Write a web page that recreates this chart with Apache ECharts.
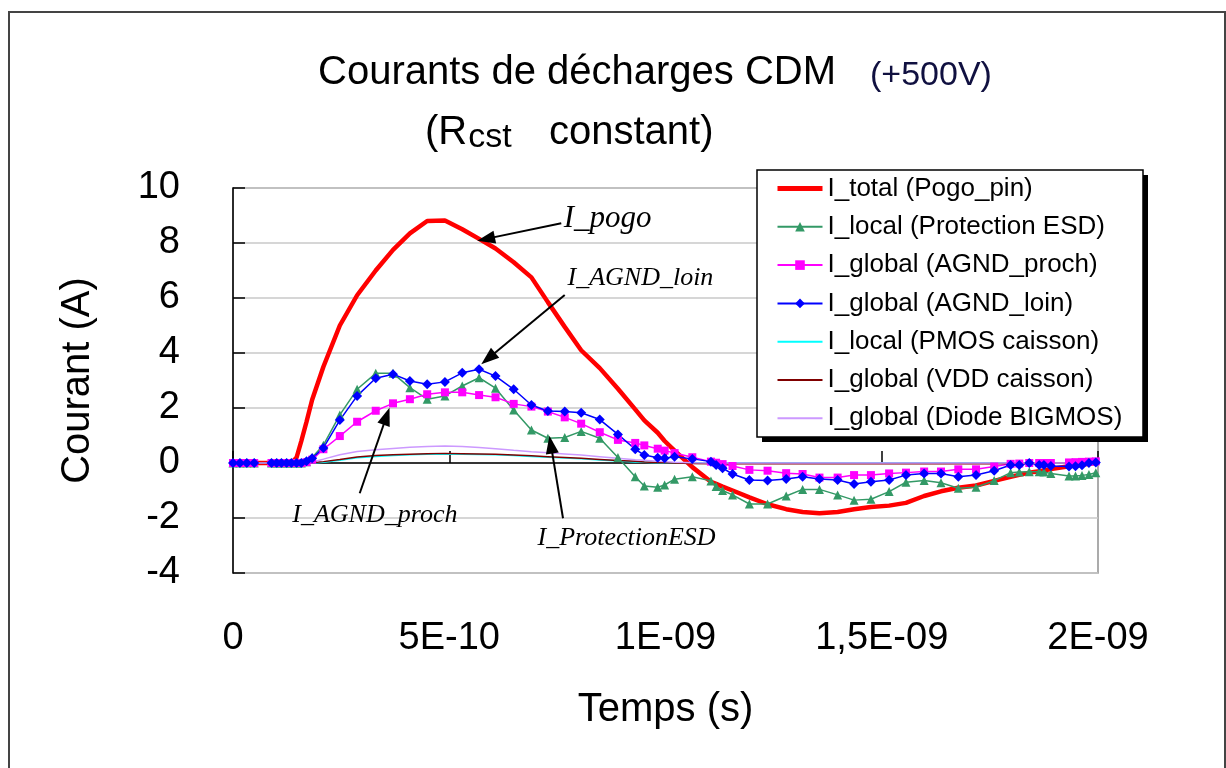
<!DOCTYPE html>
<html>
<head>
<meta charset="utf-8">
<script src="https://cdn.jsdelivr.net/npm/echarts@6/dist/echarts.min.js"></script>
<style>
  html, body { margin: 0; padding: 0; background: #ffffff; }
  #chart { width: 1226px; height: 768px; }
</style>
</head>
<body>
<div id="chart"></div>
<script>
// Simulation time steps (ns)
const temps = [
  0, 0.016, 0.032, 0.049, 0.089, 0.101, 0.112, 0.124, 0.135, 0.147,
  0.158, 0.170, 0.183, 0.209, 0.247, 0.287, 0.330, 0.370, 0.409, 0.449,
  0.490, 0.530, 0.569, 0.607, 0.649, 0.690, 0.728, 0.767, 0.805, 0.848,
  0.890, 0.930, 0.951, 0.982, 0.998, 1.021, 1.062, 1.105, 1.117, 1.132,
  1.155, 1.194, 1.236, 1.279, 1.317, 1.356, 1.398, 1.436, 1.475, 1.517,
  1.556, 1.598, 1.637, 1.677, 1.718, 1.760, 1.798, 1.818, 1.841, 1.864,
  1.875, 1.891, 1.933, 1.948, 1.963, 1.979, 1.995
];

// Currents (A)
const iTotalPogo = [
  0, 0, 0, 0, 0, 0, 0, 0, 0, 0.2,
  0.8, 1.5, 2.3, 3.5, 5.0, 6.1, 7.0, 7.75, 8.35, 8.8,
  8.82, 8.5, 8.15, 7.8, 7.3, 6.75, 5.85, 4.95, 4.1, 3.45,
  2.7, 1.95, 1.55, 1.1, 0.8, 0.45, -0.15, -0.68, -0.76, -0.86,
  -1.0, -1.25, -1.5, -1.68, -1.78, -1.83, -1.78, -1.68, -1.6, -1.55,
  -1.45, -1.2, -1.03, -0.9, -0.82, -0.65, -0.5, -0.43, -0.35, -0.3,
  -0.27, -0.22, -0.12, -0.09, -0.06, -0.03, 0
];
const iLocalESD = [
  0, 0, 0, 0, 0, 0, 0, 0, 0, 0,
  0, 0.05, 0.2, 0.65, 1.75, 2.68, 3.26, 3.26, 2.74, 2.32,
  2.44, 2.8, 3.1, 2.72, 1.93, 1.2, 0.9, 0.93, 1.15, 0.9,
  0.2, -0.5, -0.84, -0.88, -0.8, -0.59, -0.5, -0.65, -0.85, -1.0,
  -1.16, -1.49, -1.49, -1.2, -0.96, -0.96, -1.16, -1.35, -1.32, -1.04,
  -0.7, -0.64, -0.72, -0.92, -0.88, -0.64, -0.35, -0.33, -0.32, -0.32,
  -0.33, -0.38, -0.47, -0.47, -0.45, -0.42, -0.35
];
const iGlobalProch = [
  0, 0, 0, 0, 0, 0, 0, 0, 0, 0,
  0, 0.03, 0.12, 0.5, 0.98, 1.5, 1.9, 2.17, 2.32, 2.5,
  2.57, 2.57, 2.47, 2.39, 2.15, 2.05, 1.87, 1.66, 1.43, 1.12,
  0.84, 0.73, 0.64, 0.52, 0.45, 0.36, 0.21, 0.05, 0.01, -0.04,
  -0.11, -0.25, -0.28, -0.37, -0.4, -0.53, -0.53, -0.44, -0.44, -0.38,
  -0.35, -0.31, -0.31, -0.23, -0.23, -0.13, -0.03, -0.02, 0, 0,
  0, 0, 0.02, 0.03, 0.04, 0.05, 0.06
];
const iGlobalLoin = [
  0, 0, 0, 0, 0, 0, 0, 0, 0, 0,
  0, 0.06, 0.17, 0.55, 1.56, 2.44, 3.08, 3.23, 2.98, 2.86,
  2.95, 3.28, 3.41, 3.16, 2.68, 2.11, 1.89, 1.87, 1.83, 1.58,
  1.04, 0.5, 0.29, 0.19, 0.17, 0.23, 0.15, 0.05, -0.07, -0.19,
  -0.4, -0.62, -0.64, -0.58, -0.5, -0.58, -0.62, -0.76, -0.68, -0.62,
  -0.44, -0.38, -0.38, -0.5, -0.44, -0.28, -0.07, -0.07, 0, -0.07,
  -0.07, -0.11, -0.13, -0.12, -0.08, 0, 0.02
];
const iLocalPMOS = [
  0, 0, 0, 0, 0, 0, 0, 0, 0, 0,
  0, 0, 0, 0.03, 0.1, 0.19, 0.24, 0.27, 0.3, 0.32,
  0.33, 0.32, 0.31, 0.3, 0.27, 0.24, 0.21, 0.18, 0.15, 0.11,
  0.07, 0.04, 0.03, 0.01, 0, 0, 0, 0, 0, 0,
  0, 0, 0, 0, 0, 0, 0, 0, 0, 0,
  0, 0, 0, 0, 0, 0, 0, 0, 0, 0,
  0, 0, 0, 0, 0, 0, 0
];
const iGlobalVDD = [
  0, 0, 0, 0, 0, 0, 0, 0, 0, 0,
  0, 0, 0.01, 0.05, 0.13, 0.22, 0.27, 0.3, 0.32, 0.34,
  0.35, 0.34, 0.33, 0.32, 0.29, 0.26, 0.23, 0.2, 0.17, 0.13,
  0.09, 0.06, 0.04, 0.02, 0.01, 0, -0.02, -0.03, -0.03, -0.03,
  -0.03, -0.03, -0.03, -0.03, -0.03, -0.03, -0.03, -0.03, -0.03, -0.03,
  -0.03, -0.03, -0.03, -0.03, -0.03, -0.03, -0.02, -0.02, -0.01, -0.01,
  0, 0, 0, 0, 0, 0, 0
];
const iDiodeBigmos = [
  0, 0, 0, 0, 0, 0, 0, 0, 0, 0,
  0, 0, 0.04, 0.14, 0.3, 0.42, 0.48, 0.53, 0.57, 0.6,
  0.62, 0.6, 0.56, 0.52, 0.46, 0.41, 0.37, 0.33, 0.29, 0.23,
  0.17, 0.12, 0.1, 0.06, 0.05, 0.03, 0.01, 0, 0, 0,
  0, 0, 0, 0, 0, 0, 0, 0, 0, 0,
  0, 0, 0, 0, 0, 0, 0, 0, 0, 0,
  0, 0, 0, 0, 0, 0, 0
];

const seriesNames = [
  'I_total (Pogo_pin)',
  'I_local (Protection ESD)',
  'I_global (AGND_proch)',
  'I_global (AGND_loin)',
  'I_local (PMOS caisson)',
  'I_global (VDD caisson)',
  'I_global (Diode BIGMOS)'
];
const xTickLabels = ['0', '5E-10', '1E-09', '1,5E-09', '2E-09'];

const SANS = '"Liberation Sans", Arial, sans-serif';
const SERIF = '"Liberation Serif", "Times New Roman", serif';

function pairs(values) {
  return temps.map((t, i) => [t, values[i]]);
}

function lineSeries(name, values, color, width, symbol, symbolSize) {
  return {
    type: 'line',
    name: name,
    data: pairs(values),
    color: color,
    lineStyle: { color: color, width: width },
    itemStyle: { color: color },
    symbol: symbol || 'none',
    symbolSize: symbolSize || 0,
    showSymbol: !!symbol,
    smooth: false,
    silent: true
  };
}

// series drawn as plain lines get a legend entry without a marker
const plainLine = [true, false, false, false, true, true, true];
const legendData = seriesNames.map((name, i) => {
  const item = { name: name };
  if (plainLine[i]) item.itemStyle = { opacity: 0 };
  if (i === 0) item.lineStyle = { width: 5 };
  return item;
});

const chart = echarts.init(document.getElementById('chart'), null, { renderer: 'canvas' });

const option = {
  animation: false,
  backgroundColor: '#ffffff',
  title: [
    {
      text: 'Courants de décharges CDM',
      left: 313, top: 48,
      textStyle: { fontFamily: SANS, fontSize: 40, fontWeight: 'normal', color: '#000000' }
    },
    {
      text: '(+500V)',
      left: 865, top: 54,
      textStyle: { fontFamily: SANS, fontSize: 34, fontWeight: 'normal', color: '#101040' }
    },
    {
      text: '{a|(R}{s|cst}{a|   constant)}',
      left: 420, top: 106,
      textStyle: {
        fontWeight: 'normal',
        rich: {
          a: { fontFamily: SANS, fontSize: 40, fontWeight: 'normal', color: '#000000' },
          s: { fontFamily: SANS, fontSize: 34, fontWeight: 'normal', color: '#000000', padding: [10, 4, 0, 1] }
        }
      }
    }
  ],
  graphic: [
    {
      // outer frame of the figure
      type: 'rect',
      shape: { x: 9, y: 12, width: 1216, height: 780 },
      style: { fill: 'none', stroke: '#444444', lineWidth: 2 },
      silent: true
    },
    {
      // legend box with its drop shadow
      type: 'group',
      z: 3,
      silent: true,
      children: [
        {
          type: 'rect', z: 3,
          shape: { x: 762, y: 175, width: 386, height: 267 },
          style: { fill: '#000000' }
        },
        {
          type: 'rect', z: 3,
          shape: { x: 757, y: 170, width: 386, height: 267 },
          style: { fill: '#ffffff', stroke: '#000000', lineWidth: 1.5 }
        }
      ]
    }
  ],
  legend: {
    orient: 'vertical',
    z: 5,
    left: 757, top: 170,
    padding: [4, 18, 6, 18],
    itemGap: 9.3,
    itemWidth: 45,
    itemHeight: 12,
    textStyle: { fontFamily: SANS, fontSize: 26, color: '#000000', lineHeight: 29 },
    data: legendData
  },
  grid: {
    left: 233, right: 128, top: 188, bottom: 195,
    outerBoundsMode: 'none',
    containLabel: false,
    show: true,
    borderColor: '#909090',
    borderWidth: 1.5,
    backgroundColor: '#ffffff'
  },
  xAxis: {
    type: 'value',
    min: 0, max: 2, interval: 0.5,
    axisLine: { show: true, onZero: true, lineStyle: { color: '#000000', width: 1.5 } },
    axisTick: { show: true, inside: true, length: 12, lineStyle: { color: '#000000', width: 1.5 } },
    axisLabel: {
      margin: 47, fontFamily: SANS, fontSize: 38, color: '#000000',
      formatter: v => xTickLabels[Math.round(v / 0.5)]
    },
    splitLine: { show: false },
    name: 'Temps (s)',
    nameLocation: 'middle',
    nameGap: 117,
    nameTextStyle: { fontFamily: SANS, fontSize: 40, color: '#000000' }
  },
  yAxis: {
    type: 'value',
    min: -4, max: 10, interval: 2,
    axisLine: { show: true, onZero: false, lineStyle: { color: '#000000', width: 1.5 } },
    axisTick: { show: true, inside: true, length: 12, lineStyle: { color: '#000000', width: 1.5 } },
    axisLabel: { margin: 53, fontFamily: SANS, fontSize: 38, color: '#000000' },
    splitLine: { show: true, lineStyle: { color: '#c8c8c8', width: 1.5 } },
    name: 'Courant (A)',
    nameLocation: 'middle',
    nameRotate: 90,
    nameGap: 135,
    nameTextStyle: { fontFamily: SANS, fontSize: 40, color: '#000000' }
  },
  series: [
    lineSeries(seriesNames[0], iTotalPogo, '#ff0000', 4.5),
    lineSeries(seriesNames[1], iLocalESD, '#339966', 1.5, 'triangle', 9),
    lineSeries(seriesNames[2], iGlobalProch, '#ff00ff', 1.5, 'rect', 8),
    lineSeries(seriesNames[3], iGlobalLoin, '#0000ff', 1.5, 'diamond', 10),
    lineSeries(seriesNames[4], iLocalPMOS, '#00ffff', 1.5),
    lineSeries(seriesNames[5], iGlobalVDD, '#800000', 1.5),
    lineSeries(seriesNames[6], iDiodeBigmos, '#cc99ff', 1.5),
    {
      // arrows and italic labels naming the main currents
      type: 'line',
      name: 'annotations',
      data: [],
      silent: true,
      markLine: {
        silent: true,
        symbol: ['none', 'triangle'],
        symbolSize: [13, 18],
        label: { show: false },
        lineStyle: { color: '#000000', width: 2, type: 'solid' },
        data: [
          [{ coord: [0.759, 8.72] }, { coord: [0.585, 8.15] }],
          [{ coord: [0.767, 6.11] }, { coord: [0.590, 3.80] }],
          [{ coord: [0.293, -1.10] }, { coord: [0.355, 1.70] }],
          [{ coord: [0.763, -2.01] }, { coord: [0.735, 0.67] }]
        ]
      },
      markPoint: {
        silent: true,
        symbol: 'circle',
        symbolSize: 0,
        label: {
          show: true, position: 'inside', color: '#000000',
          fontFamily: SERIF, fontStyle: 'italic',
          formatter: p => p.name
        },
        data: [
          { name: 'I_pogo', coord: [0.866, 8.87], label: { fontSize: 31 } },
          { name: 'I_AGND_loin', coord: [0.942, 6.73], label: { fontSize: 26 } },
          { name: 'I_AGND_proch', coord: [0.328, -1.89], label: { fontSize: 26 } },
          { name: 'I_ProtectionESD', coord: [0.910, -2.73], label: { fontSize: 26 } }
        ]
      }
    }
  ]
};

chart.setOption(option);
</script>
</body>
</html>
